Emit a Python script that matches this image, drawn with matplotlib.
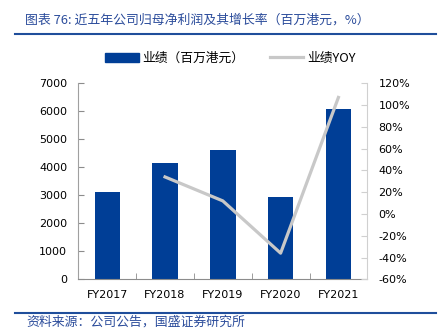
import matplotlib
matplotlib.use("Agg")
import matplotlib.pyplot as plt
from matplotlib.lines import Line2D
from matplotlib.patches import Patch
from matplotlib.ticker import FuncFormatter

# data
years = ["FY2017", "FY2018", "FY2019", "FY2020", "FY2021"]
profit = [3105, 4145, 4618, 2950, 6070]      # 百万港元
yoy = [None, 34, 12, -36, 107]                # %

bar_color = "#003E96"
line_color = "#C8C8C8"
title_blue = "#2B4C9B"

plt.rcParams["font.family"] = ["DejaVu Sans"]
cjk = ["Noto Sans CJK SC", "DejaVu Sans"]

fig = plt.figure(figsize=(4.39, 3.34), dpi=100)
ax = fig.add_axes([0.1784, 0.1638, 0.6583, 0.5868])

x = list(range(len(years)))
ax.bar(x, profit, width=0.44, color=bar_color, zorder=2)
ax.set_xlim(-0.5, 4.5)
ax.set_ylim(0, 7000)
ax.set_yticks(range(0, 7001, 1000))
ax.set_xticks(x)
ax.set_xticklabels(years)
ax.set_xticks([0.5, 1.5, 2.5, 3.5], minor=True)
ax.tick_params(axis="x", which="major", length=0, pad=8, labelsize=8)
ax.tick_params(axis="x", which="minor", direction="in", length=4, color="#8c8c8c")
ax.tick_params(axis="y", direction="in", length=4, color="#8c8c8c", pad=8, labelsize=8)
ax.spines["top"].set_visible(False)
ax.spines["right"].set_visible(False)
ax.spines["left"].set_color("#a0a0a0")
ax.spines["bottom"].set_color("#8c8c8c")

ax2 = ax.twinx()
xs = [i for i, v in zip(x, yoy) if v is not None]
ys = [v for v in yoy if v is not None]
ax2.plot(xs, ys, color=line_color, linewidth=2.3, zorder=3)
ax2.set_ylim(-60, 120)
ax2.set_yticks(range(-60, 121, 20))
ax2.yaxis.set_major_formatter(FuncFormatter(lambda v, p: f"{int(v)}%"))
ax2.tick_params(axis="y", direction="in", length=4, color="#d0d0d0", pad=8, labelsize=8)
for s in ["top", "left", "bottom"]:
    ax2.spines[s].set_visible(False)
ax2.spines["right"].set_color("#d0d0d0")

handles = [Patch(facecolor=bar_color, edgecolor=bar_color),
           Line2D([0], [0], color=line_color, linewidth=2.3)]
fig.legend(handles, ["业绩（百万港元）", "业绩YOY"], loc="center",
           bbox_to_anchor=(0.525, 0.826), ncol=2, frameon=False,
           prop={"family": cjk, "size": 9.2}, handlelength=2.6,
           handleheight=0.7, handletextpad=0.3, columnspacing=2.0)

# title, rules and source
fig.text(0.057, 0.94, "图表 76: 近五年公司归母净利润及其增长率（百万港元，%）",
         family=cjk, fontsize=9.3, color=title_blue, va="center", ha="left")
fig.add_artist(Line2D([15 / 439, 436 / 439], [1 - 34.3 / 334] * 2,
                      color="#1F4E9B", linewidth=1.5))
fig.add_artist(Line2D([15 / 439, 436 / 439], [1 - 313.3 / 334] * 2,
                      color="#1F4E9B", linewidth=1.5))
fig.text(0.061, 1 - 322.5 / 334, "资料来源：公司公告，国盛证券研究所",
         family=cjk, fontsize=9.3, color=title_blue, va="center", ha="left")

fig.savefig("out.png", dpi=100)
